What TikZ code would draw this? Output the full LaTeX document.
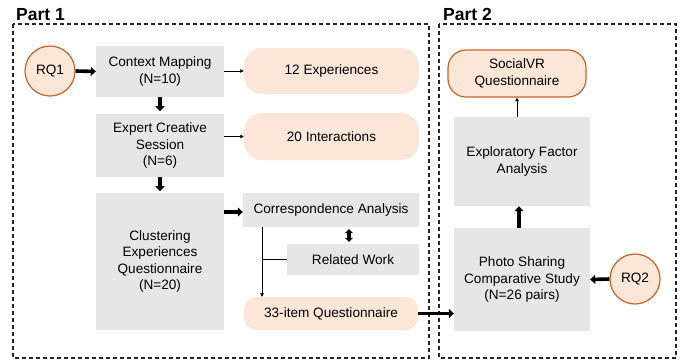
\documentclass[tikz,border=0pt]{standalone}
\usepackage{fontspec}
\setmainfont{Liberation Sans}
\usetikzlibrary{arrows.meta,calc}
\definecolor{boxgray}{HTML}{E6E6E6}
\definecolor{peach}{HTML}{FBE6D8}
\definecolor{rust}{HTML}{C8642A}
\begin{document}
\begin{tikzpicture}[x=1pt,y=-1pt,
  font=\fontsize{13.6}{16.5}\selectfont,
  graybox/.style={fill=boxgray,draw=none,align=center,inner sep=0pt},
  pill/.style={fill=peach,draw=none,rounded corners=18pt,align=center,inner sep=0pt},
  rqcirc/.style={circle,fill=peach,draw=rust,line width=1.2pt,minimum size=50pt,inner sep=0pt},
  thickarrow/.style={line width=3.6pt,-{Triangle[length=5pt,width=9pt]}},
  thinarrow/.style={line width=0.8pt,-{Triangle[length=3.5pt,width=3.5pt]}},
  partbox/.style={draw=black!85,line width=1.1pt,dash pattern=on 4pt off 3pt},
  partlabel/.style={font=\fontsize{17.5}{20}\selectfont\bfseries,anchor=base west,inner sep=0pt}]
\useasboundingbox (0,0) rectangle (683,360);
% part frames
\draw[partbox] (13,24) rectangle (429,358);
\draw[partbox] (439,24) rectangle (676,358);
\node[partlabel] (p1) at (16,20) {Part 1};
\node[partlabel] (p2) at (443,20) {Part 2};
% part 1 nodes
\node[rqcirc] (rq1) at (50,71) {RQ1};
\node[graybox,minimum width=128pt,minimum height=51pt] (ctx) at (160,71.5) {Context Mapping\\(N=10)};
\node[graybox,minimum width=128pt,minimum height=63pt] (exp) at (160,145.5) {Expert Creative\\Session\\(N=6)};
\node[graybox,minimum width=128pt,minimum height=137pt] (clu) at (160,261.5) {Clustering\\Experiences\\Questionnaire\\(N=20)};
\node[pill,minimum width=175pt,minimum height=46pt] (e12) at (331.5,71) {12 Experiences};
\node[pill,minimum width=175pt,minimum height=47pt] (i20) at (331.5,136.5) {20 Interactions};
\node[graybox,minimum width=176pt,minimum height=34pt] (corr) at (331,210) {Correspondence Analysis};
\node[graybox,minimum width=132pt,minimum height=31pt] (rel) at (353,259.5) {Related Work};
\node[pill,rounded corners=12pt,minimum width=174pt,minimum height=33pt] (q33) at (331,313.5) {33-item Questionnaire};
\coordinate (vx) at (262,0);
\coordinate (dx) at (349,0);
% part 2 nodes
\node[pill,draw=rust,line width=1.2pt,minimum width=138pt,minimum height=47pt] (svr) at (517,73.5) {SocialVR\\Questionnaire};
\node[graybox,minimum width=136pt,minimum height=89pt] (efa) at (522,161.5) {Exploratory Factor\\Analysis};
\node[graybox,minimum width=136pt,minimum height=103pt] (pho) at (522,279.5) {Photo Sharing\\Comparative Study\\(N=26 pairs)};
\node[rqcirc] (rq2) at (635,279) {RQ2};
% connectors
\draw[thickarrow] (rq1.east) -- (ctx.west);
\draw[thickarrow] (ctx.south) -- ++(0,14);
\draw[thickarrow] (exp.south) -- ++(0,14);
\draw[thinarrow] (ctx.east |- e12.west) -- (e12.west);
\draw[thinarrow] (exp.east |- i20.west) -- (i20.west);
\draw[thickarrow] ($(clu.east |- corr.west)+(0,2)$) -- ($(corr.west)+(0,2)$);
\draw[line width=3.2pt,{Triangle[length=4pt,width=8pt]}-{Triangle[length=4pt,width=8pt]}] ($(corr.south -| dx)+(0,2)$) -- ($(rel.north -| dx)+(0,-2)$);
\draw[thinarrow] (corr.south -| vx) -- (q33.north -| vx);
\draw[line width=0.8pt] (rel.west) -- (rel.west -| vx);
\draw[thickarrow] (q33.east) -- (pho.west |- q33.east);
\draw[thickarrow] (rq2.west) -- (pho.east);
\draw[thickarrow] (pho.north -| 519,0) -- (efa.south -| 519,0);
\draw[thinarrow] (efa.north -| svr.south) -- (svr.south);
\end{tikzpicture}
\end{document}
